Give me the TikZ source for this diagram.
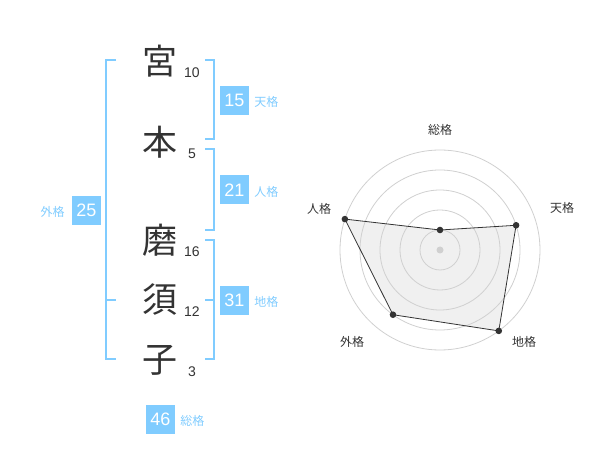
\documentclass[tikz,border=0pt]{standalone}
\usepackage{fontspec}
\setmainfont{Liberation Sans}
\newfontfamily\jpfont{Noto Sans CJK JP}
\usetikzlibrary{positioning}

\definecolor{kakublue}{RGB}{128,204,255}
\definecolor{inkgray}{RGB}{51,51,51}
\definecolor{gridgray}{RGB}{208,208,208}
\definecolor{areagray}{RGB}{240,240,240}

\begin{document}
\begin{tikzpicture}[x=1pt, y=-1pt,
        kanji/.style={font=\jpfont\fontsize{35}{35}\selectfont, text=inkgray, inner sep=0pt},
        strokes/.style={font=\fontsize{14}{14}\selectfont, text=inkgray, inner sep=0pt},
        score/.style={fill=kakublue, text=white, minimum size=29pt, inner sep=0pt, font=\fontsize{18}{18}\selectfont},
        kaku/.style={font=\jpfont\fontsize{12}{12}\selectfont, text=kakublue, inner sep=0pt},
        bracket/.style={draw=kakublue, line width=2pt},
        axis/.style={font=\jpfont\fontsize{12}{12}\selectfont, text=inkgray, inner sep=0pt}]

    \useasboundingbox (0,0) rectangle (600,470);

    % Draw name characters with stroke counts
    \foreach \y/\ch/\n/\i in {61/宮/10/1, 142/本/5/2, 240/磨/16/3, 300/須/12/4, 360/子/3/5} {
        \node[kanji] (c\i) at (160,\y) {\ch};
        \node[strokes] (n\i) at (192,\y+12) {\n};
    }

    % Draw brackets
    \draw[bracket] (116,60) -- (106,60) -- (106,359) -- (116,359);
    \draw[bracket] (106,300) -- (116,300);
    \draw[bracket] (205,60) -- (214,60) -- (214,139) -- (205,139);
    \draw[bracket] (205,149) -- (214,149) -- (214,230) -- (205,230);
    \draw[bracket] (205,240) -- (214,240) -- (214,359) -- (205,359);
    \draw[bracket] (205,300) -- (214,300);

    % Draw scores
    \node[score] (ten) at (234.5,100.5) {15};
    \node[kaku, right=5pt of ten.base east, anchor=base west] (tenl) {天格};
    \node[score] (jin) at (234.5,190) {21};
    \node[kaku, right=5pt of jin.base east, anchor=base west] (jinl) {人格};
    \node[score] (gai) at (86.5,210.5) {25};
    \node[kaku, left=7pt of gai.base west, anchor=base east] (gail) {外格};
    \node[score] (chi) at (234.5,300.5) {31};
    \node[kaku, right=5pt of chi.base east, anchor=base west] (chil) {地格};
    \node[score] (sou) at (160.5,419) {46};
    \node[kaku, right=5pt of sou.base east, anchor=base west] (soul) {総格};

    % Radar chart
    \begin{scope}[shift={(440,250)}, y=1pt]
        \coordinate (o) at (0,0);
        \foreach \a/\r/\i in {90/20/1, 18/80/2, -54/100/3, -126/80/4, 162/100/5}
            \coordinate (p\i) at (\a:\r);

        % Draw filled area
        \fill[areagray] (p1) -- (p2) -- (p3) -- (p4) -- (p5) -- cycle;

        % Draw grid circles
        \foreach \r in {20,40,...,100}
            \draw[gridgray, line width=0.8pt] (o) circle (\r);

        % Draw outline and points
        \draw[inkgray, line width=0.8pt, line join=round] (p1) -- (p2) -- (p3) -- (p4) -- (p5) -- cycle;
        \foreach \i in {1,...,5}
            \fill[inkgray] (p\i) circle (3.3);
        \fill[gridgray] (o) circle (3.5);

        % Axis labels
        \node[axis] (a1) at (0,120) {総格};
        \node[axis] (a2) at (122,42) {天格};
        \node[axis] (a3) at (84,-92) {地格};
        \node[axis] (a4) at (-88,-92) {外格};
        \node[axis] (a5) at (-121,41) {人格};
    \end{scope}
\end{tikzpicture}
\end{document}
